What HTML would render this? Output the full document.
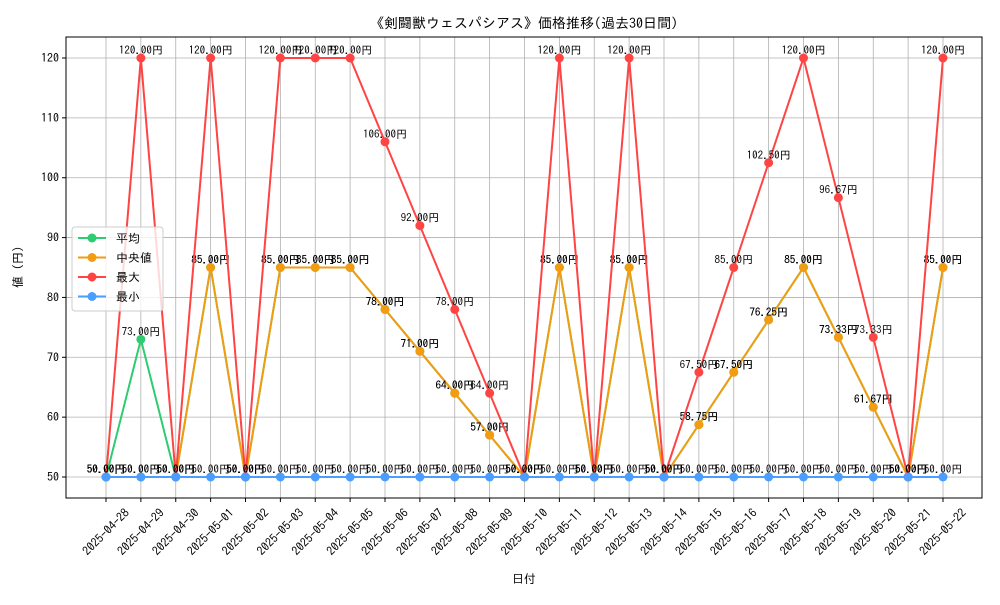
<!DOCTYPE html>
<html><head><meta charset="utf-8"><style>
body{margin:0;background:#fff;}
svg{font-family:"IPAGothic","Noto Sans CJK JP",sans-serif;}
</style></head><body>
<svg id="chart" width="1000" height="600" xmlns="http://www.w3.org/2000/svg">
<rect width="1000" height="600" fill="#fff"/>
<text x="524" y="28" font-size="14" text-anchor="middle">《剣闘獣ウェスパシアス》価格推移(過去30日間)</text>
<g id="grid"></g>
<rect x="66" y="37" width="916" height="461" fill="none" stroke="#000" stroke-width="1"/>
<g id="axes"></g>
<g id="series"></g>
<text x="524" y="583" font-size="12" text-anchor="middle">日付</text>
<text transform="translate(22,267) rotate(-90)" font-size="12" text-anchor="middle">値 (円)</text>
<g id="legend"></g>
</svg>
<script>
const dates=["2025-04-28","2025-04-29","2025-04-30","2025-05-01","2025-05-02","2025-05-03","2025-05-04","2025-05-05","2025-05-06","2025-05-07","2025-05-08","2025-05-09","2025-05-10","2025-05-11","2025-05-12","2025-05-13","2025-05-14","2025-05-15","2025-05-16","2025-05-17","2025-05-18","2025-05-19","2025-05-20","2025-05-21","2025-05-22"];
const meanVals=[50,73,50,85,50,85,85,85,78,71,64,57,50,85,50,85,50,58.75,67.5,76.25,85,73.33,61.67,50,85];
const medianVals=[50,50,50,85,50,85,85,85,78,71,64,57,50,85,50,85,50,58.75,67.5,76.25,85,73.33,61.67,50,85];
const maxVals=[50,120,50,120,50,120,120,120,106,92,78,64,50,120,50,120,50,67.5,85,102.5,120,96.67,73.33,50,120];
const minVals=[50,50,50,50,50,50,50,50,50,50,50,50,50,50,50,50,50,50,50,50,50,50,50,50,50];
const yTicks=[50,60,70,80,90,100,110,120];
const seriesNames=["平均","中央値","最大","最小"];
const seriesColors=["#2ecc71","#f39c12","#ff4444","#4a9eff"];
const NS="http://www.w3.org/2000/svg";
function xS(i){return 106+i*(943-106)/(dates.length-1);}
function yS(v){return 477-(v-50)*(419/70);}
function mk(tag,attrs,parent){const e=document.createElementNS(NS,tag);for(const k in attrs)e.setAttribute(k,attrs[k]);parent.appendChild(e);return e;}
const grid=document.getElementById('grid'),axes=document.getElementById('axes'),ser=document.getElementById('series'),leg=document.getElementById('legend');
yTicks.forEach(t=>{
  const l=mk('line',{x1:66,x2:982,y1:yS(t),y2:yS(t),stroke:'#b0b0b0','stroke-width':0.8},grid);
  
  
  mk('line',{x1:62,x2:66,y1:yS(t),y2:yS(t),stroke:'#000'},axes);
  const tx=mk('text',{x:59,y:yS(t)+4,'font-size':12,'text-anchor':'end'},axes);
  tx.textContent=t;
  
  
});
dates.forEach((d,i)=>{
  const l=mk('line',{x1:xS(i),x2:xS(i),y1:37,y2:498,stroke:'#b0b0b0','stroke-width':0.8},grid);
  
  
  mk('line',{x1:xS(i),x2:xS(i),y1:498,y2:502,stroke:'#000'},axes);
  const tx=mk('text',{transform:`translate(${xS(i)},${532}) rotate(-45)`,y:4,'font-size':12,'text-anchor':'middle'},axes);
  tx.textContent=d;
  
  
});
const allVals=[meanVals,medianVals,maxVals,minVals];
allVals.forEach((vals,s)=>{
  const g=mk('g',{},ser);
  
  
  const pl=mk('polyline',{points:vals.map((v,i)=>xS(i)+','+yS(v)).join(' '),fill:'none',stroke:seriesColors[s],'stroke-width':2},g);
  
  
  vals.forEach((v,i)=>{
    const c=mk('circle',{cx:xS(i),cy:yS(v),r:4.5,fill:seriesColors[s]},g);
    
    
    const t=mk('text',{x:xS(i),y:yS(v)-4,'font-size':11,'text-anchor':'middle',fill:'#000'},g);
    t.textContent=v.toFixed(2)+'円';
    
    
  });
});
const lb=mk('rect',{x:72,y:227,width:91,height:84,fill:'#fff','fill-opacity':0.8,stroke:'#ccc',rx:3},leg);


seriesNames.forEach((n,s)=>{
  const y=238+s*19.5;
  const g=mk('g',{},leg);
  
  
  mk('line',{x1:78,x2:106,y1:y,y2:y,stroke:seriesColors[s],'stroke-width':2},g);
  mk('circle',{cx:92,cy:y,r:4.5,fill:seriesColors[s]},g);
  const t=mk('text',{x:116,y:y+4.5,'font-size':12},g);
  t.textContent=n;
});
</script>
</body></html>
